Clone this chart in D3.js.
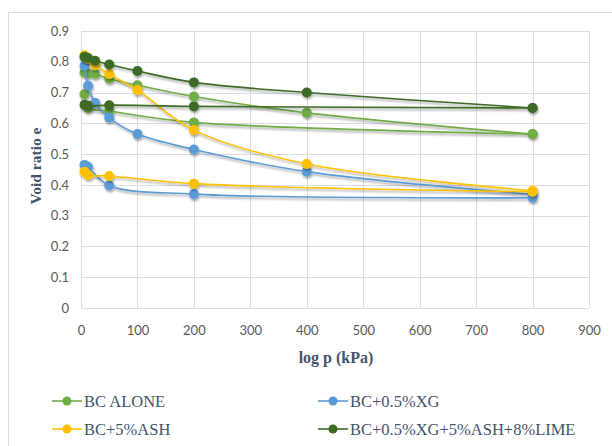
<!DOCTYPE html>
<html>
<head>
<meta charset="utf-8">
<script src="https://cdn.jsdelivr.net/npm/d3@7"></script>
<style>
  html, body { margin: 0; padding: 0; background: #fff; }
  svg { display: block; }
</style>
</head>
<body>
<svg id="chart" width="612" height="446"></svg>
<script>
// ---- data ----
const seriesNames = ["BC ALONE", "BC+0.5%XG", "BC+5%ASH", "BC+0.5%XG+5%ASH+8%LIME"];
const seriesColors = ["#70AD47", "#5B9BD5", "#FFC000", "#3D6B25"];

const loadP = [6.25, 12.5, 25, 50, 100, 200, 400, 800];
const unloadP = [800, 200, 50, 12.5, 6.25];

const bcAloneLoad   = [0.765, 0.762, 0.760, 0.745, 0.724, 0.687, 0.634, 0.565];
const bcAloneUnload = [0.565, 0.603, 0.640, 0.650, 0.695];

const bcXgLoad   = [0.787, 0.722, 0.667, 0.618, 0.565, 0.515, 0.443, 0.369];
const bcXgUnload = [0.358, 0.370, 0.398, 0.458, 0.465];

const bcAshLoad   = [0.821, 0.810, 0.789, 0.760, 0.708, 0.578, 0.468, 0.381];
const bcAshUnload = [0.378, 0.404, 0.429, 0.432, 0.443];

const bcMixLoad   = [0.816, 0.812, 0.803, 0.791, 0.770, 0.733, 0.700, 0.650];
const bcMixUnload = [0.650, 0.655, 0.659, 0.657, 0.660];

const xTicks = [0, 100, 200, 300, 400, 500, 600, 700, 800, 900];
const yTicks = [0, 0.1, 0.2, 0.3, 0.4, 0.5, 0.6, 0.7, 0.8, 0.9];

const loadSets = [bcAloneLoad, bcXgLoad, bcAshLoad, bcMixLoad];
const unloadSets = [bcAloneUnload, bcXgUnload, bcAshUnload, bcMixUnload];

// ---- layout ----
const svg = d3.select("#chart");
const plot = { left: 81, right: 589, top: 31, bottom: 308 };

const x = d3.scaleLinear().domain([0, 900]).range([plot.left, plot.right]);
const y = d3.scaleLinear().domain([0, 0.9]).range([plot.bottom, plot.top]);

// outer border
svg.append("rect")
  .attr("x", 8.5).attr("y", 12.5)
  .attr("width", 640).attr("height", 460)
  .attr("fill", "none").attr("stroke", "#D9DEE5").attr("stroke-width", 1);

// shadow filter
const defs = svg.append("defs");
const f = defs.append("filter").attr("id", "shadow")
  .attr("x", "-20%").attr("y", "-20%").attr("width", "140%").attr("height", "140%");
f.append("feDropShadow").attr("dx", 0.8).attr("dy", 2).attr("stdDeviation", 1.3)
  .attr("flood-color", "#000").attr("flood-opacity", 0.35);

// grid
const grid = svg.append("g");
grid.selectAll("line.h").data(yTicks).enter().append("line")
  .attr("x1", plot.left).attr("x2", plot.right)
  .attr("y1", d => Math.round(y(d)) + 0.5).attr("y2", d => Math.round(y(d)) + 0.5)
  .attr("stroke", "#D9DDE5").attr("stroke-width", 1);
grid.selectAll("line.v").data(xTicks).enter().append("line")
  .attr("y1", plot.top).attr("y2", plot.bottom)
  .attr("x1", d => Math.round(x(d)) + 0.5).attr("x2", d => Math.round(x(d)) + 0.5)
  .attr("stroke", "#D9DDE5").attr("stroke-width", 1);

// axes (labels only, via d3 axes)
const xAxis = svg.append("g")
  .attr("transform", `translate(0,${plot.bottom})`)
  .call(d3.axisBottom(x).tickValues(xTicks).tickSize(0).tickPadding(18).tickFormat(d3.format("d")));
const yAxis = svg.append("g")
  .attr("transform", `translate(${plot.left},0)`)
  .call(d3.axisLeft(y).tickValues(yTicks).tickSize(0).tickPadding(12)
    .tickFormat(d => d === 0 ? "0" : d3.format(".1f")(d)));
[xAxis, yAxis].forEach(a => {
  a.select(".domain").remove();
  a.selectAll("text").attr("fill", "#595959")
    .style("font-family", "Lato, 'Liberation Sans', sans-serif").style("font-size", "13px");
});

// axis titles
svg.append("text")
  .attr("x", 336).attr("y", 363).attr("text-anchor", "middle")
  .style("font-family", "'Liberation Serif', 'Times New Roman', serif")
  .style("font-weight", "bold").style("font-size", "16px").attr("fill", "#44546A")
  .text("log p (kPa)");
svg.append("text")
  .attr("transform", "translate(41,166) rotate(-90)").attr("text-anchor", "middle")
  .style("font-family", "'Liberation Serif', 'Times New Roman', serif")
  .style("font-weight", "bold").style("font-size", "15.5px").attr("fill", "#44546A")
  .text("Void ratio e");

// series
const line = d3.line().x(d => x(d.p)).y(d => y(d.e)).curve(d3.curveCatmullRom.alpha(0.5));
const seriesG = svg.append("g");
seriesNames.forEach((name, i) => {
  const loadPts = loadP.map((p, j) => ({ p, e: loadSets[i][j] }));
  const unloadPts = unloadP.map((p, j) => ({ p, e: unloadSets[i][j] }));
  const g = seriesG.append("g").attr("filter", "url(#shadow)");
  [loadPts, unloadPts].forEach(pts => {
    g.append("path").datum(pts).attr("d", line)
      .attr("fill", "none").attr("stroke", seriesColors[i]).attr("stroke-width", 1.6);
  });
  g.selectAll("circle").data(loadPts.concat(unloadPts)).enter().append("circle")
    .attr("cx", d => x(d.p)).attr("cy", d => y(d.e)).attr("r", 5)
    .attr("fill", seriesColors[i]);
});

// legend
const legendPos = [[52, 401], [318, 401], [52, 429], [318, 429]];
seriesNames.forEach((name, i) => {
  const [lx, ly] = legendPos[i];
  const g = svg.append("g");
  g.append("line").attr("x1", lx).attr("x2", lx + 30).attr("y1", ly).attr("y2", ly)
    .attr("stroke", seriesColors[i]).attr("stroke-width", 1.6);
  g.append("circle").attr("cx", lx + 15).attr("cy", ly).attr("r", 4.5).attr("fill", seriesColors[i]);
  g.append("text").attr("x", lx + 32).attr("y", ly + 5.5)
    .style("font-family", "'Liberation Serif', 'Times New Roman', serif")
    .style("font-size", "16.5px").attr("fill", "#44546A")
    .text(name);
});
</script>
</body>
</html>
